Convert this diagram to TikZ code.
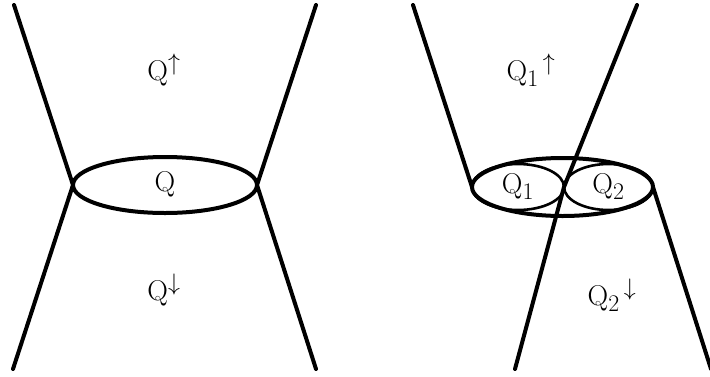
\documentclass[tikz,border=0pt]{standalone}
\usepackage{graphicx}
\usetikzlibrary{shapes.geometric}
\newcommand{\biglabel}[1]{\scalebox{1.15}{\fontsize{24.88}{30}\selectfont #1}}
\begin{document}
\begin{tikzpicture}[
    x=1pt, y=-1pt,
    edge/.style={line width=4pt, line cap=round, line join=round},
    blob/.style={ellipse, draw, line width=4pt, inner sep=0pt, outer sep=0pt},
    part/.style={blob, line width=2.6pt}
  ]
  \useasboundingbox (0,0) rectangle (710,376);

  % left: one cluster
  \node[blob, minimum width=184, minimum height=56] (q) at (165,185) {\biglabel{$\mathrm{Q}$}};
  \coordinate (tl) at (14,5);
  \coordinate (tr) at (316,5);
  \coordinate (bl) at (13,369);
  \coordinate (br) at (316,369);
  \draw[edge] (tl) -- (q.west) -- (bl);
  \draw[edge] (tr) -- (q.east) -- (br);
  \node (qup) at (164,70) {\biglabel{$\mathrm{Q}^{\uparrow}$}};
  \node (qdown) at (164,290) {\biglabel{$\mathrm{Q}^{\downarrow}$}};

  % right: split into two
  \node[blob, minimum width=181, minimum height=58] (pair) at (562.5,187) {};
  \node[part, minimum width=92, minimum height=46] (q1) at (518,187) {\biglabel{$\mathrm{Q}_1$}};
  \node[part, minimum width=89, minimum height=46] (q2) at (608.5,187) {\biglabel{$\mathrm{Q}_2$}};
  \coordinate (ptl) at (413,5);
  \coordinate (ptr) at (637,5);
  \coordinate (pbl) at (515,369);
  \coordinate (pbr) at (711,369);
  \draw[edge] (ptl) -- (pair.west);
  \draw[edge] (pair.east) -- (pbr);
  \draw[edge] (ptr) -- (q1.east) -- (pbl);
  \node (q1up) at (531,70) {\biglabel{$\mathrm{Q}_1{}^{\,\uparrow}$}};
  \node (q2down) at (612,295) {\biglabel{$\mathrm{Q}_2{}^{\,\downarrow}$}};
\end{tikzpicture}
\end{document}
